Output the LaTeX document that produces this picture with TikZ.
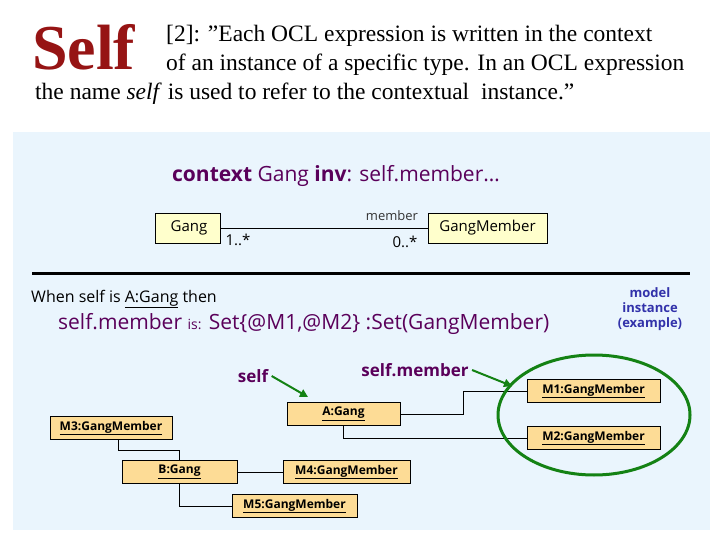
\documentclass[tikz,border=0pt]{standalone}
\usepackage{fontspec}
\setmainfont{Liberation Serif}
\newfontfamily\comic{Open Sans}
\usetikzlibrary{arrows.meta}
\definecolor{pnl}{RGB}{234,245,253}
\definecolor{boxy}{RGB}{255,255,204}
\definecolor{boxo}{RGB}{253,220,150}
\definecolor{purp}{RGB}{90,0,90}
\definecolor{dred}{RGB}{150,20,20}
\definecolor{grn}{RGB}{20,130,20}
\definecolor{blu}{RGB}{50,50,170}
\begin{document}
\begin{tikzpicture}[x=1pt,y=-1pt,
  cls/.style={draw,fill=boxy,minimum height=30pt,font=\comic\fontsize{15}{15}\selectfont,inner sep=0pt},
  obj/.style={draw,fill=boxo,minimum height=23pt,font=\comic\fontsize{12}{12}\selectfont\bfseries,inner sep=0pt},
  ln/.style={draw,line width=0.7pt},
  garr/.style={draw=grn,line width=2pt,-{Triangle[length=8pt,width=8pt]}}]
\useasboundingbox (0,0) rectangle (720,540);
\fill[white] (0,0) rectangle (720,540);
\fill[pnl] (13,132) rectangle (710,530);
\node[anchor=base west,font=\fontsize{64}{64}\selectfont\bfseries,text=dred,inner sep=0] (t0) at (32,70) {Self};
\node[anchor=base west,font=\fontsize{23.5}{24}\selectfont,inner sep=0] (t1) at (166,42) {[2]: ”Each OCL expression is written in the context};
\node[anchor=base west,font=\fontsize{23.5}{24}\selectfont,inner sep=0] (t2) at (166,71) {of an instance of a specific type. In an OCL expression};
\node[anchor=base west,font=\fontsize{23.5}{24}\selectfont,inner sep=0] (t3) at (35,100) {the name \textit{self} is used to refer to the contextual\ \ instance.”};
\node[font=\comic\fontsize{21}{21}\selectfont,text=purp] (ctx) at (336,176) {\textbf{context} Gang \textbf{inv}: self.member…};
\node[cls,minimum width=65pt] (g) at (187.5,228) {};
\node[anchor=north,font=\comic\fontsize{15}{15}\selectfont,inner sep=0] (gl) at (189,220) {Gang};
\node[cls,minimum width=119pt] (gm) at (487.5,228) {GangMember};
\draw[ln] (g.east) -- (gm.west);
\node[font=\comic\fontsize{15}{15}\selectfont] (m1l) at (238,240) {1..*};
\node[font=\comic\fontsize{15}{15}\selectfont] (m2l) at (405,242) {0..*};
\node[font=\comic\fontsize{13}{13}\selectfont,text=black!80] (mem) at (392,216) {member};
\draw[line width=3pt] (32,273) -- (690,273);
\node[anchor=base west,font=\comic\fontsize{16}{16}\selectfont,inner sep=0] (when) at (31,302) {When self is \underline{A:Gang} then};
\node[anchor=base west,font=\comic\fontsize{21}{21}\selectfont,text=purp,inner sep=0] (sm) at (58,329) {self.member {\fontsize{14}{14}\selectfont is:} Set\{@M1,@M2\} :Set(GangMember)};
\node[align=center,font=\comic\fontsize{13}{15}\selectfont\bfseries,text=blu] (mi) at (650,309) {model\\instance\\(example)};
\node[obj,minimum width=113pt] (A) at (343.5,414) {\underline{A:Gang}};
\node[obj,minimum width=133pt] (M1) at (593.5,391) {\underline{M1:GangMember}};
\node[obj,minimum width=133pt] (M2) at (593.5,438) {\underline{M2:GangMember}};
\node[obj,minimum width=122pt] (M3) at (111,428) {\underline{M3:GangMember}};
\node[obj,minimum width=115pt] (B) at (179.5,472) {\underline{B:Gang}};
\node[obj,minimum width=127pt] (M4) at (346.5,472) {\underline{M4:GangMember}};
\node[obj,minimum width=125pt] (M5) at (294.5,506) {\underline{M5:GangMember}};
\draw[ln] (A.east) -| (463,391) -- (M1.west);
\draw[ln] (A.south) |- (M2.west);
\draw[ln] (M3.south -| 118,0) -- (118,450) -| (B.north);
\draw[ln] (B.east) -- (M4.west);
\draw[ln] (B.south) |- (M5.west);
\draw[grn,line width=3pt] (594,415) ellipse [x radius=96, y radius=60];
\node[font=\comic\fontsize{17}{17}\selectfont\bfseries,text=purp] (sl) at (253,376) {self};
\node[font=\comic\fontsize{17}{17}\selectfont\bfseries,text=purp] (sml) at (415,370) {self.member};
\coordinate (sa) at (308,397);
\coordinate (sma) at (512,386);
\draw[garr] (sl.east) -- (sa);
\draw[garr] (sml.east) -- (sma);
\end{tikzpicture}
\end{document}
